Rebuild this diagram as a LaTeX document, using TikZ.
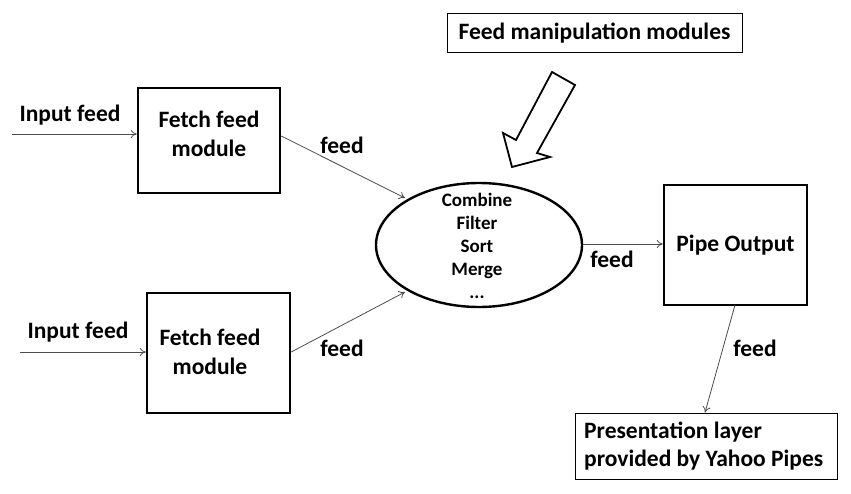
\documentclass[tikz,border=0pt]{standalone}
\usepackage{fontspec}
\setmainfont{Carlito}
\usetikzlibrary{arrows.meta,shapes.geometric}
\begin{document}
\begin{tikzpicture}[x=1pt,y=-1pt,
  lbl/.style={font=\bfseries\fontsize{23.5}{28}\selectfont, inner sep=0pt},
  modbox/.style={draw, line width=2.4pt, align=center, font=\bfseries\fontsize{23.5}{28}\selectfont},
  conn/.style={draw=black!70, line width=0.8pt, -{To[length=6pt,width=8pt]}},
  thinbox/.style={draw, line width=1pt}]
\useasboundingbox (0,0) rectangle (851,494);
% title box
\node[thinbox, minimum width=295pt, minimum height=39pt, font=\bfseries\fontsize{23.5}{28}\selectfont] (title) at (594.5,33.5) {Feed manipulation modules};
% hollow arrow
\draw[line width=1.8pt, line join=miter] (552,72) -- (516,140) -- (503,133) -- (512,167) -- (550,157) -- (537,153) -- (575,85) -- cycle;
% fetch boxes
\node[modbox, minimum width=142pt, minimum height=105pt] (f1) at (209,140.5) {};
\node[lbl, align=center, font=\bfseries\fontsize{23.5}{29}\selectfont] (f1t) at (209,134) {Fetch feed\\module};
\node[modbox, minimum width=143pt, minimum height=120pt] (f2) at (218.5,353) {};
\node[lbl, align=center, font=\bfseries\fontsize{23.5}{29}\selectfont] (f2t) at (210,352) {Fetch feed\\module};
% inputs
\coordinate (in1) at (12,134);
\coordinate (in2) at (20,352);
\node[lbl] (il1) at (70,115) {Input feed};
\node[lbl] (il2) at (78,332) {Input feed};
\draw[conn] (in1) -- (f1.west |- in1);
\draw[conn] (in2) -- (f2.west |- in2);
% ellipse
\node[ellipse, draw, line width=2.4pt, minimum width=206pt, minimum height=124pt] (ell) at (479,245) {};
\node[align=center, font=\bfseries\fontsize{19}{23}\selectfont, inner sep=0pt] (ellt) at (477,246) {Combine\\Filter\\Sort\\Merge\\...};
\coordinate (e1) at (405,198);
\coordinate (e2) at (405,292);
\draw[conn] (f1.east |- 0,136) -- (e1);
\draw[conn] (f2.east |- 0,352) -- (e2);
\node[lbl] (l1) at (342,145) {feed};
\node[lbl] (l2) at (342,348) {feed};
% pipe output
\node[modbox, minimum width=143pt, minimum height=120pt] (po) at (735.5,245) {Pipe Output};
\draw[conn] (ell.east |- 0,244) -- (po.west |- 0,244);
\node[lbl] (l3) at (612,259) {feed};
% presentation
\node[thinbox, minimum width=262pt, minimum height=66pt] (pres) at (706,446) {};
\node[lbl, align=left, anchor=west, font=\bfseries\fontsize{23.5}{28}\selectfont] (prest) at (584,446) {Presentation layer\\provided by Yahoo Pipes};
\draw[conn] (735,305) -- (pres.north -| 705,0);
\node[lbl] (l4) at (755,348) {feed};
\end{tikzpicture}
\end{document}
